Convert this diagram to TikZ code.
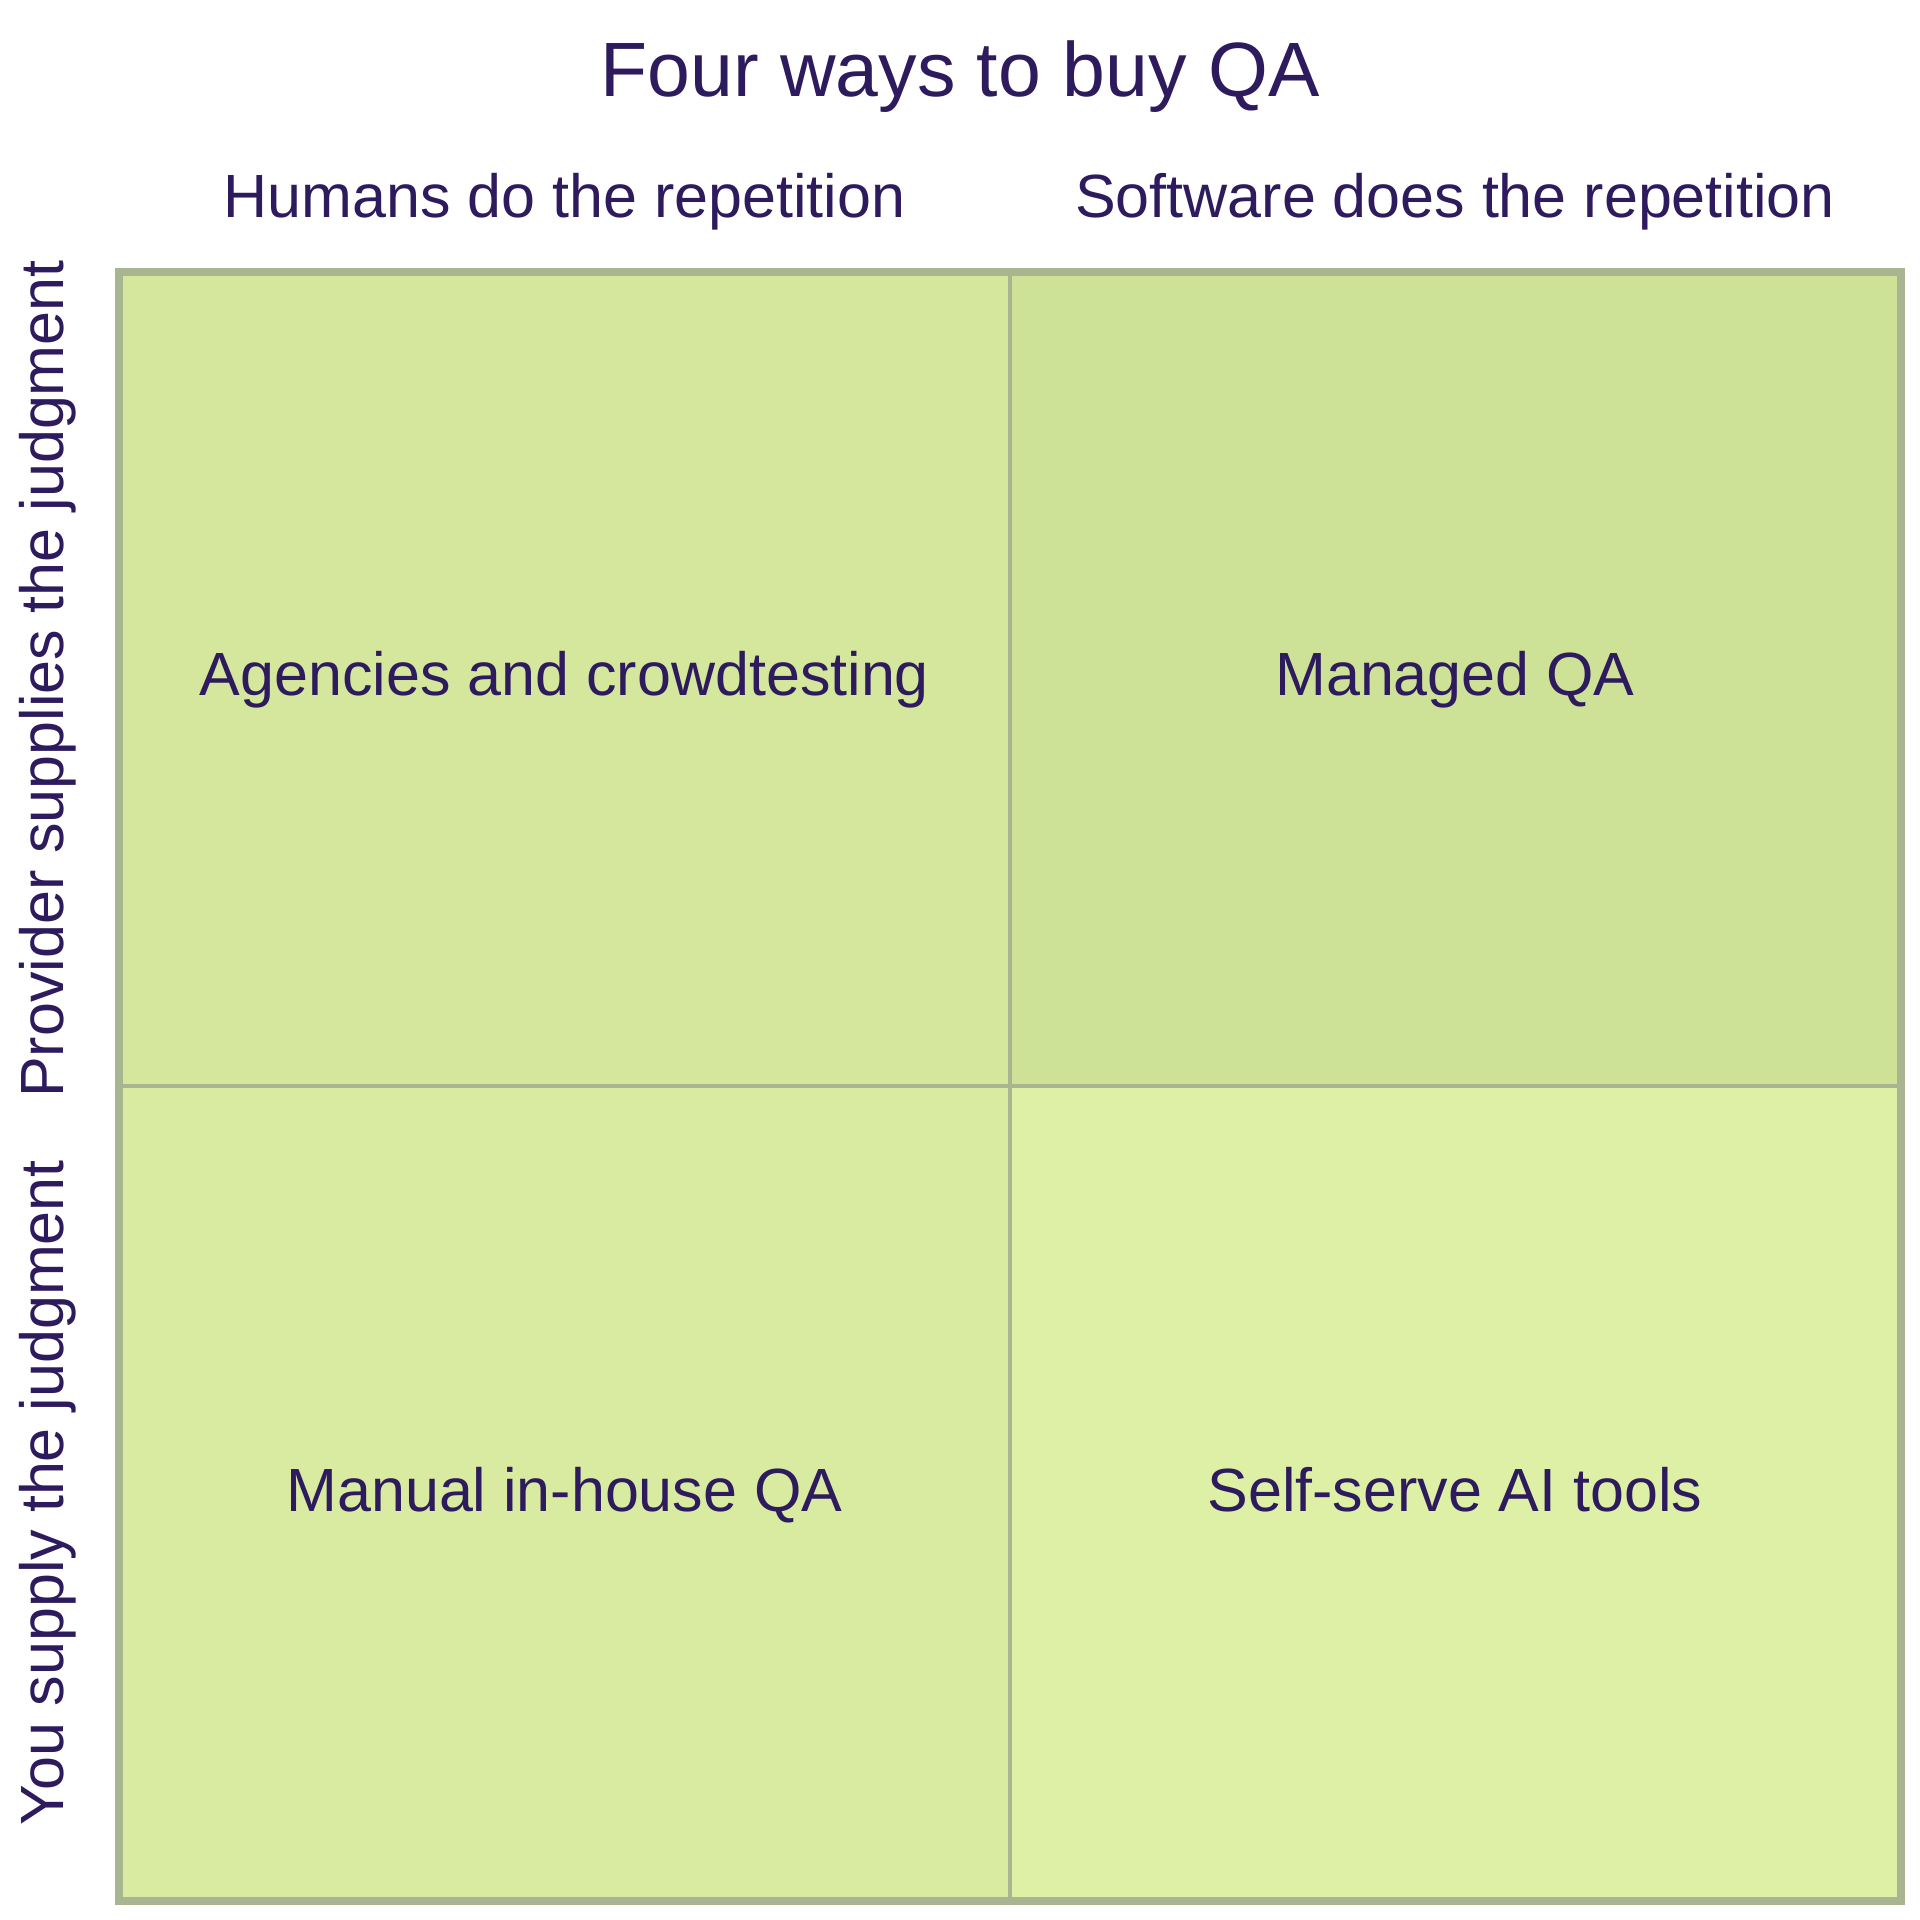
\documentclass[tikz,border=0pt]{standalone}
\usepackage{fontspec}
\setmainfont{Liberation Sans}
\definecolor{ink}{HTML}{2D1B5E}
\definecolor{edge}{HTML}{A8B590}
\definecolor{cTL}{HTML}{D4E79C}
\definecolor{cTR}{HTML}{CEE297}
\definecolor{cBL}{HTML}{D8EBA0}
\definecolor{cBR}{HTML}{DEF0A6}
\begin{document}
\begin{tikzpicture}[x=1pt,y=-1pt,
  lbl/.style={text=ink,font=\fontsize{61}{73}\selectfont,inner sep=0pt,anchor=base},
  axl/.style={text=ink,font=\fontsize{61}{73}\selectfont,inner sep=0pt,anchor=base,rotate=90},
  cell/.style={draw=edge,line width=4pt}]
\useasboundingbox (0,0) rectangle (1920,1920);
\fill[white] (0,0) rectangle (1920,1920);
\path[cell,fill=cTL] (119,272) rectangle (1010,1086);
\path[cell,fill=cTR] (1010,272) rectangle (1900.5,1086);
\path[cell,fill=cBL] (119,1086) rectangle (1010,1900.5);
\path[cell,fill=cBR] (1010,1086) rectangle (1900.5,1900.5);
\draw[edge,line width=8pt] (119,272) rectangle (1900.5,1900.5);
\node[text=ink,font=\fontsize{77}{92}\selectfont,inner sep=0pt,anchor=base] (title) at (960,96) {Four ways to buy QA};
\node[lbl] (hl) at (564.5,217) {Humans do the repetition};
\node[lbl] (hr) at (1455,217) {Software does the repetition};
\node[axl] (vt) at (63.7,679) {Provider supplies the judgment};
\node[axl] (vb) at (63.7,1493) {You supply the judgment};
\node[lbl] (tl) at (564.5,695.5) {Agencies and crowdtesting};
\node[lbl] (tr) at (1455,695.5) {Managed QA};
\node[lbl] (bl) at (564.5,1511) {Manual in-house QA};
\node[lbl] (br) at (1455,1511) {Self-serve AI tools};
\end{tikzpicture}
\end{document}
